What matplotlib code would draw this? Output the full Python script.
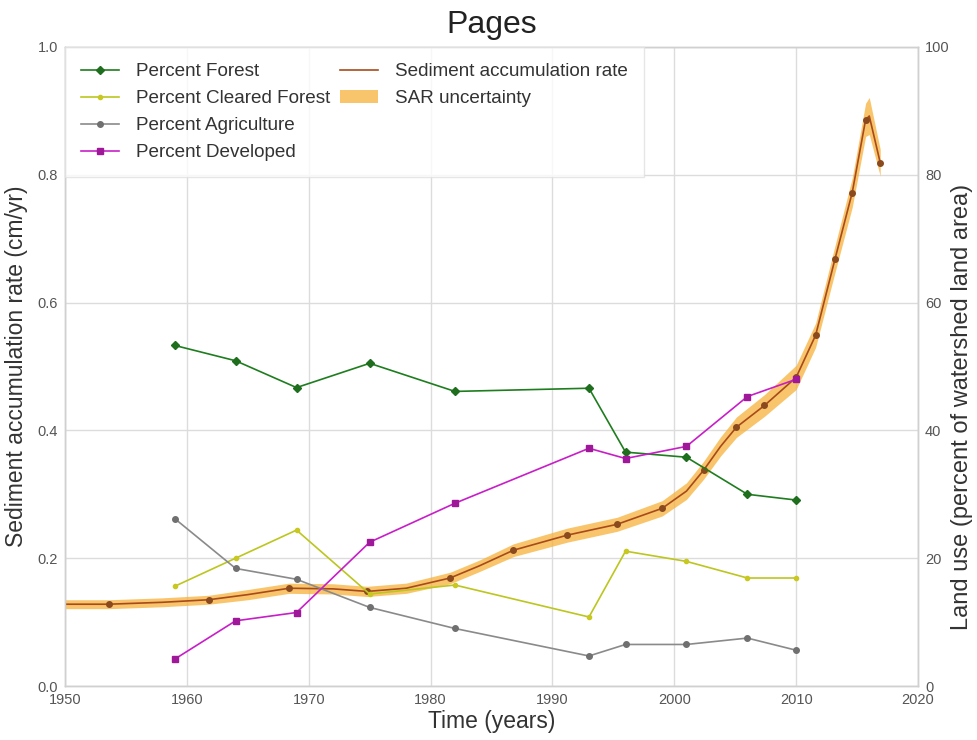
import matplotlib
matplotlib.use("Agg")
import matplotlib.pyplot as plt
from matplotlib.lines import Line2D
from matplotlib.patches import Patch
import numpy as np

plt.rcParams['font.family'] = ['Liberation Sans', 'DejaVu Sans']

# Land-use survey years and percentages of watershed area
lu_years = [1959, 1964, 1969, 1975, 1982, 1993, 1996, 2001, 2006, 2010]
pct_forest = [53.3, 50.9, 46.7, 50.5, 46.1, 46.6, 36.6, 35.8, 30.0, 29.1]
pct_cleared = [15.6, 20.0, 24.4, 14.4, 15.8, 10.8, 21.1, 19.5, 16.9, 16.9]
pct_agri = [26.2, 18.4, 16.7, 12.3, 9.0, 4.7, 6.5, 6.5, 7.5, 5.6]
pct_dev = [4.2, 10.2, 11.5, 22.5, 28.6, 37.2, 35.6, 37.5, 45.3, 48.0]

# Sediment accumulation rate curve (cm/yr) with its uncertainty half-width
sar_years = [1950.0, 1953.6, 1958.0, 1961.8, 1965.0, 1968.4, 1972.0, 1974.8, 1978.0,
             1981.6, 1984.0, 1986.8, 1991.2, 1995.3, 1999.0, 2001.0, 2002.4, 2003.8,
             2005.1, 2007.4, 2010.0, 2011.6, 2013.2, 2014.6, 2015.7, 2016.0, 2016.9]
sar_vals = [0.128, 0.128, 0.131, 0.135, 0.143, 0.153, 0.152, 0.148, 0.153,
            0.169, 0.188, 0.2125, 0.236, 0.253, 0.278, 0.305, 0.3375, 0.375,
            0.405, 0.439, 0.483, 0.549, 0.669, 0.772, 0.886, 0.892, 0.819]
sar_err = [0.007, 0.007, 0.007, 0.007, 0.008, 0.008, 0.008, 0.008, 0.008,
           0.009, 0.009, 0.010, 0.011, 0.011, 0.012, 0.013, 0.014, 0.015,
           0.016, 0.017, 0.019, 0.019, 0.021, 0.023, 0.026, 0.029, 0.021]
sar_marked = [1, 3, 5, 7, 9, 11, 12, 13, 14, 16, 18, 19, 20, 21, 22, 23, 24, 26]

fig = plt.figure(figsize=(9.78, 7.40), dpi=100)
ax = fig.add_axes([65 / 978, 1 - 686 / 740, (918 - 65) / 978, (686 - 47) / 740])
ax2 = ax.twinx()

grid_c = '#dcdcdc'
spine_c = '#d0d0d0'
tick_c = '#555555'

sar = np.array(sar_vals)
err = np.array(sar_err)
ax.fill_between(sar_years, sar - err, sar + err, color='#f7b23b', alpha=0.75,
                linewidth=0, zorder=2)
ax.plot(sar_years, sar_vals, color='#a84a1a', lw=1.2, marker='o', ms=4,
        markevery=sar_marked, mfc='#8b4a1e', mec='#8b4a1e', zorder=3)

ax2.plot(lu_years, pct_forest, color='#1e7d1e', lw=1.2, marker='D', ms=4.5,
         mfc='#1e6e1e', mec='#1e6e1e')
ax2.plot(lu_years, pct_cleared, color='#bcc61e', lw=1.2, marker='o', ms=3,
         mfc='#c8c820', mec='#c8c820')
ax2.plot(lu_years, pct_agri, color='#8a8a8a', lw=1.2, marker='o', ms=4,
         mfc='#707070', mec='#707070')
ax2.plot(lu_years, pct_dev, color='#c81ec8', lw=1.2, marker='s', ms=5,
         mfc='#a0189a', mec='#a0189a')

ax.set_xlim(1950, 2020)
ax.set_ylim(0, 1.0)
ax2.set_ylim(0, 100)
ax.set_xticks(np.arange(1950, 2021, 10))
ax.set_yticks(np.arange(0, 1.01, 0.2))
ax.set_yticklabels([f'{v:.1f}' for v in np.arange(0, 1.01, 0.2)])
ax2.set_yticks(np.arange(0, 101, 20))

ax.grid(True, color=grid_c, lw=1.0, zorder=0)
ax.set_axisbelow(True)
ax2.grid(False)
for a in (ax, ax2):
    for s in a.spines.values():
        s.set_color(spine_c)
        s.set_linewidth(1.0)
    a.tick_params(length=0, labelsize=10.5, labelcolor=tick_c, pad=5)

ax.set_xlabel('Time (years)', fontsize=16.5, color='#333333', labelpad=2)
ax.set_ylabel('Sediment accumulation rate (cm/yr)', fontsize=16.5, color='#333333',
              labelpad=7)
ax2.set_ylabel('Land use (percent of watershed land area)', fontsize=17,
               color='#333333')
ax2.yaxis.set_label_coords(1.039, 0.437)
ax.set_title('Pages', fontsize=23, color='#222222', pad=10)

blank = Line2D([], [], alpha=0)
handles = [
    Line2D([], [], color='#1e7d1e', lw=1.2, marker='D', ms=4.5, mfc='#1e6e1e', mec='#1e6e1e'),
    Line2D([], [], color='#bcc61e', lw=1.2, marker='o', ms=3, mfc='#c8c820', mec='#c8c820'),
    Line2D([], [], color='#8a8a8a', lw=1.2, marker='o', ms=4, mfc='#707070', mec='#707070'),
    Line2D([], [], color='#c81ec8', lw=1.2, marker='s', ms=5, mfc='#a0189a', mec='#a0189a'),
    Line2D([], [], color='#a84a1a', lw=1.2),
    Patch(facecolor='#f7b23b', alpha=0.75, edgecolor='none'),
    blank, blank,
]
labels = ['Percent Forest', 'Percent Cleared Forest', 'Percent Agriculture',
          'Percent Developed', 'Sediment accumulation rate', 'SAR uncertainty', '', '']
leg = ax2.legend(handles, labels, loc='upper left', ncol=2, fontsize=13.6,
                 frameon=True, fancybox=False, borderaxespad=0.0,
                 handlelength=2.0, handletextpad=0.9, columnspacing=0.55,
                 labelspacing=0.52, numpoints=1, borderpad=0.85)
leg.get_frame().set_edgecolor('#e0e0e0')
leg.get_frame().set_linewidth(1.0)
for t in leg.get_texts():
    t.set_color('#333333')

fig.savefig('out.png', dpi=100)
